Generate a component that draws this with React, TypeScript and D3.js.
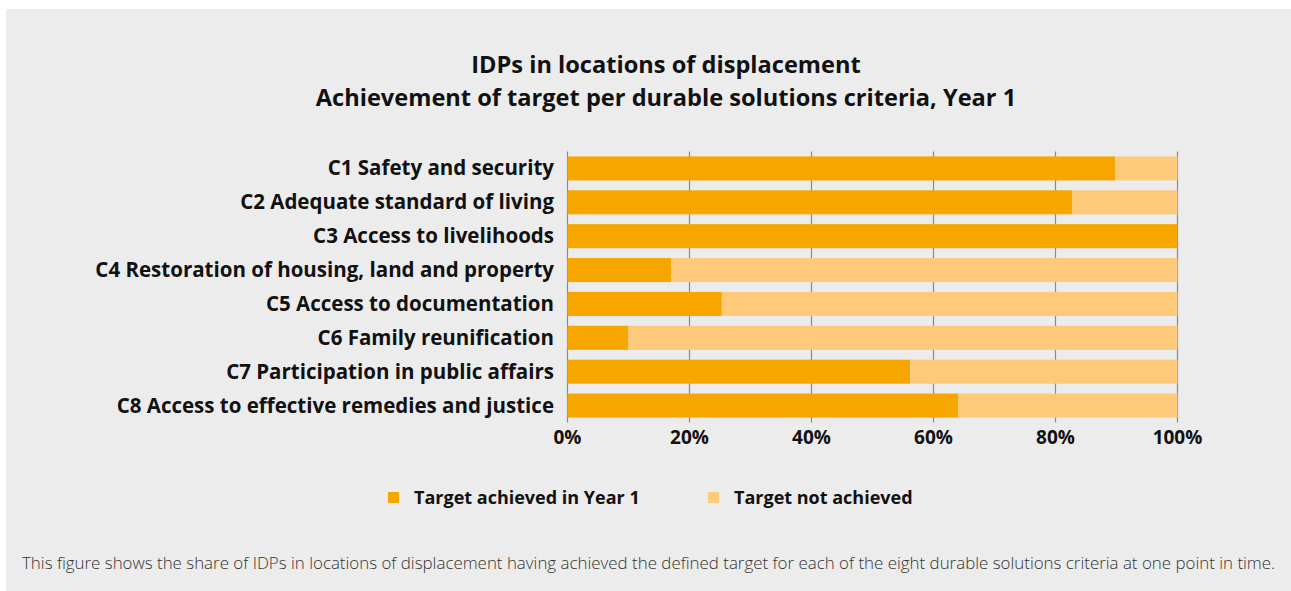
import React, { useEffect, useRef } from "react";
import * as d3 from "d3";

const categories = [
  "C1 Safety and security",
  "C2 Adequate standard of living",
  "C3 Access to livelihoods",
  "C4 Restoration of housing, land and property",
  "C5 Access to documentation",
  "C6 Family reunification",
  "C7 Participation in public affairs",
  "C8 Access to effective remedies and justice",
];
const achieved = [89.8, 82.7, 100, 17, 25.3, 10, 56.2, 64.1];
const notAchieved = achieved.map((v) => 100 - v);
const seriesNames = ["Target achieved in Year 1", "Target not achieved"];
const tickValues = [0, 20, 40, 60, 80, 100];
const titleLines = [
  "IDPs in locations of displacement",
  "Achievement of target per durable solutions criteria, Year 1",
];
const footnote =
  "This figure shows the share of IDPs in locations of displacement having achieved the defined target for each of the eight durable solutions criteria at one point in time.";

const W = 1291;
const H = 591;
const DARK = "#F7A600";
const LIGHT = "#FCCA7A";
const BG = "#ECECEC";
const FONT = "'Open Sans', 'Noto Sans', sans-serif";

export default function App() {
  const ref = useRef<SVGSVGElement | null>(null);

  useEffect(() => {
    const svg = d3.select(ref.current);
    svg.selectAll("*").remove();

    svg.append("rect").attr("x", 6).attr("y", 9).attr("width", W - 6).attr("height", H - 9).attr("fill", BG);

    const x = d3.scaleLinear().domain([0, 100]).range([567.5, 1177.5]);
    const y = d3
      .scaleBand<string>()
      .domain(categories)
      .range([151.5, 422.5])
      .paddingInner(0.29)
      .paddingOuter(0.145);

    // title
    svg
      .append("g")
      .selectAll("text")
      .data(titleLines)
      .join("text")
      .attr("x", 666)
      .attr("y", (_d, i) => 73 + i * 33)
      .attr("text-anchor", "middle")
      .attr("font-family", FONT)
      .attr("font-weight", 700)
      .attr("font-size", 23.6)
      .attr("fill", "#111")
      .text((d) => d);

    // gridlines
    svg
      .append("g")
      .selectAll("line")
      .data(tickValues)
      .join("line")
      .attr("x1", (d) => x(d))
      .attr("x2", (d) => x(d))
      .attr("y1", 151.5)
      .attr("y2", 422.5)
      .attr("stroke", "#8a8a8a")
      .attr("stroke-width", 1.2);

    // bars
    const rows = categories.map((c, i) => ({ c, a: achieved[i], n: notAchieved[i] }));
    const g = svg.append("g");
    g.selectAll("rect.a")
      .data(rows)
      .join("rect")
      .attr("class", "a")
      .attr("x", x(0))
      .attr("y", (d) => y(d.c)!)
      .attr("width", (d) => x(d.a) - x(0))
      .attr("height", y.bandwidth())
      .attr("fill", DARK);
    g.selectAll("rect.n")
      .data(rows)
      .join("rect")
      .attr("class", "n")
      .attr("x", (d) => x(d.a))
      .attr("y", (d) => y(d.c)!)
      .attr("width", (d) => x(d.a + d.n) - x(d.a))
      .attr("height", y.bandwidth())
      .attr("fill", LIGHT);

    // category labels
    svg
      .append("g")
      .selectAll("text")
      .data(categories)
      .join("text")
      .attr("x", 554)
      .attr("y", (d) => y(d)! + y.bandwidth() / 2 + 7)
      .attr("text-anchor", "end")
      .attr("font-family", FONT)
      .attr("font-weight", 700)
      .attr("font-size", 20.5)
      .attr("fill", "#111")
      .text((d) => d);

    // tick labels
    svg
      .append("g")
      .selectAll("text")
      .data(tickValues)
      .join("text")
      .attr("x", (d) => x(d))
      .attr("y", 444)
      .attr("text-anchor", "middle")
      .attr("font-family", FONT)
      .attr("font-weight", 700)
      .attr("font-size", 19)
      .attr("fill", "#111")
      .text((d) => `${d}%`);

    // legend
    const legendX = [388, 708];
    const lg = svg.append("g");
    seriesNames.forEach((name, i) => {
      lg.append("rect")
        .attr("x", legendX[i])
        .attr("y", 492)
        .attr("width", 11)
        .attr("height", 11)
        .attr("fill", i === 0 ? DARK : LIGHT);
      lg.append("text")
        .attr("x", legendX[i] + 26)
        .attr("y", 504)
        .attr("font-family", FONT)
        .attr("font-weight", 700)
        .attr("font-size", 18)
        .attr("fill", "#111")
        .text(name);
    });

    // footnote
    svg
      .append("text")
      .attr("x", 22)
      .attr("y", 569)
      .attr("font-family", FONT)
      .attr("font-weight", 300)
      .attr("font-size", 16.9)
      .attr("fill", "#333")
      .text(footnote);
  }, []);

  return (
    <svg
      ref={ref}
      width={W}
      height={H}
      style={{ position: "absolute", left: 0, top: 0, display: "block" }}
    />
  );
}
